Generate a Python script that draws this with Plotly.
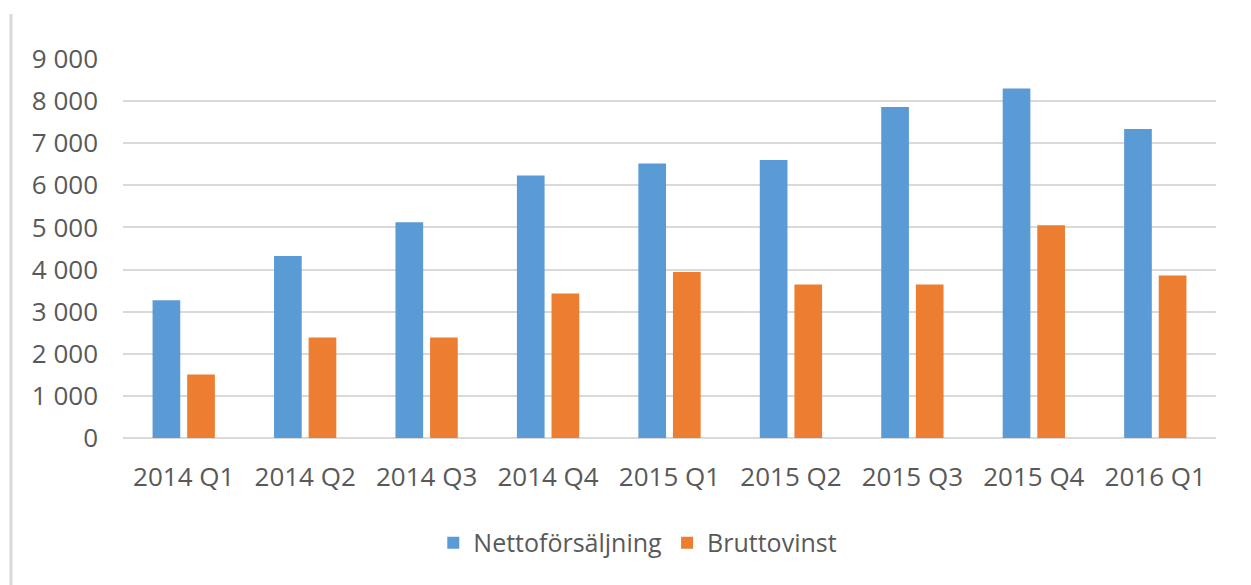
import plotly.graph_objects as go

categories = ["2014 Q1", "2014 Q2", "2014 Q3", "2014 Q4", "2015 Q1",
              "2015 Q2", "2015 Q3", "2015 Q4", "2016 Q1"]
netto = [3270, 4320, 5125, 6235, 6520, 6600, 7860, 8300, 7340]
brutto = [1505, 2385, 2385, 3430, 3940, 3645, 3645, 5050, 3860]
y_ticks = [0, 1000, 2000, 3000, 4000, 5000, 6000, 7000, 8000, 9000]
y_labels = ["0", "1 000", "2 000", "3 000", "4 000", "5 000",
            "6 000", "7 000", "8 000", "9 000"]

FONT = "Open Sans"
TXT = "#595959"
GRID = "#d9d9d9"

fig = go.Figure()
fig.add_trace(go.Bar(name="Nettoförsäljning", x=categories, y=netto,
                     marker=dict(color="#5b9bd5", line=dict(width=0))))
fig.add_trace(go.Bar(name="Bruttovinst", x=categories, y=brutto,
                     marker=dict(color="#ed7d31", line=dict(width=0))))

fig.update_layout(
    width=1251, height=585,
    margin=dict(l=115, r=43, t=51, b=155, autoexpand=False),
    paper_bgcolor="white", plot_bgcolor="white",
    barmode="group", bargap=0.43, bargroupgap=0.2,
    font=dict(family=FONT, size=26, color=TXT),
    showlegend=True,
    legend=dict(orientation="h", x=0.471, xanchor="center", y=-0.277,
                yanchor="middle", font=dict(family=FONT, size=25, color=TXT),
                itemwidth=30, tracegroupgap=0, traceorder="normal"),
    xaxis=dict(showgrid=False, showline=False, ticks="", zeroline=False,
               tickfont=dict(family=FONT, size=26, color=TXT),
               ticklabelstandoff=21, fixedrange=True),
    yaxis=dict(range=[0, 9000], tickvals=y_ticks, ticktext=y_labels,
               showgrid=True, gridcolor=GRID, gridwidth=2,
               zeroline=True, zerolinecolor=GRID, zerolinewidth=2,
               showline=False, ticks="",
               tickfont=dict(family=FONT, size=26, color=TXT),
               ticklabelstandoff=24, fixedrange=True),
    shapes=[dict(type="line", xref="paper", yref="paper",
                 x0=-0.1025, x1=-0.1025, y0=1.1187, y1=-0.45,
                 line=dict(color=GRID, width=3))],
)

fig.write_html("out.html")
